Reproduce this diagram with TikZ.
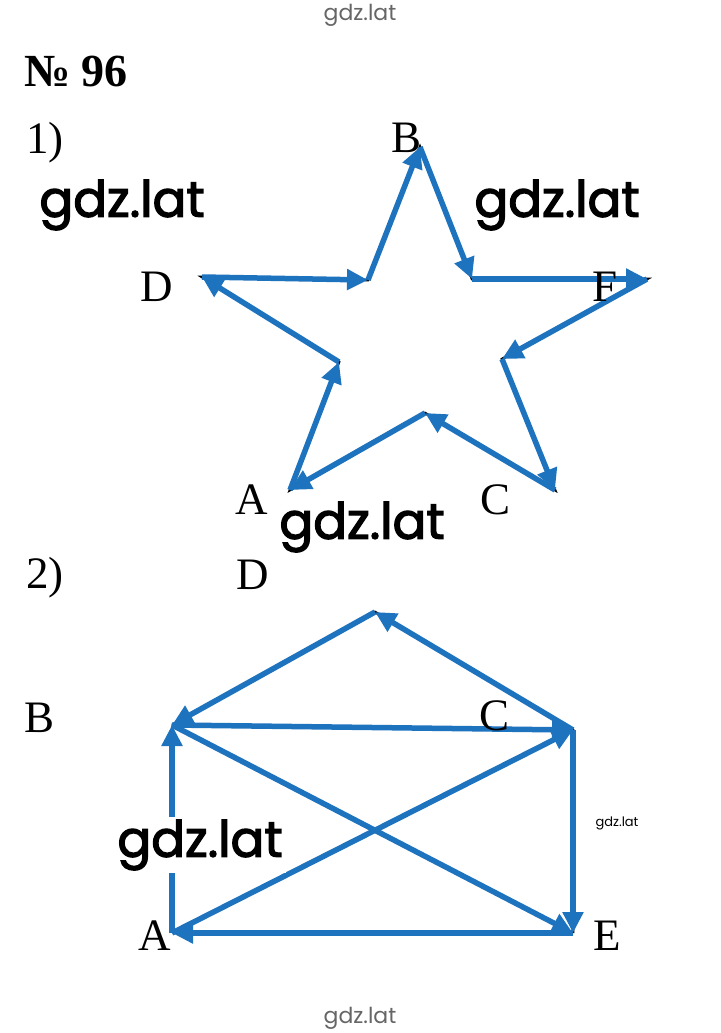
\documentclass[tikz,border=0pt]{standalone}
\usepackage{fontspec}
\setmainfont{Liberation Serif}
\newfontfamily\wmfont[FakeBold=2.5]{Poppins}
\newfontfamily\wmthin{Poppins}
\usetikzlibrary{arrows.meta}
\definecolor{vecblue}{RGB}{30,115,190}

\begin{document}
\begin{tikzpicture}[x=1pt,y=-1pt,
  every node/.style={
    inner sep=0pt, font=\fontsize{45}{45}\selectfont
  },
  vec/.style={
    draw=vecblue, line width=5.5pt,
    -{Triangle[length=21pt,width=20pt]}
  },
  side/.style={draw=black, line width=2.6pt},
  wmbig/.style={font=\wmfont\fontsize{50}{50}\selectfont},
  wmsmall/.style={font=\wmthin\fontsize{#1}{#1}\selectfont}
  ]
  \useasboundingbox[fill=white] (0,0) rectangle (720,1033);

  \node[wmsmall=22, text=black!60] (wmtop) at (360,15) {gdz.lat};
  \node[wmsmall=22, text=black!60] (wmbot) at (360,1018) {gdz.lat};
  \node[wmsmall=13] (wmright) at (617,823) {gdz.lat};
  \node[anchor=west, font=\bfseries\fontsize{46}{46}\selectfont] (title) at (24,71) {№ 96};

  % 1) star
  \node (one) at (45,143) {1)};
  \coordinate (A) at (290,490);
  \coordinate (p1) at (339,362);
  \coordinate (D) at (202,277);
  \coordinate (p2) at (368,280);
  \coordinate (B) at (420,147);
  \coordinate (p3) at (472,279);
  \coordinate (F) at (647,279);
  \coordinate (p4) at (502,359);
  \coordinate (C) at (555,490);
  \coordinate (p5) at (425,413);
  \draw[side, shift={(3,2.5)}] (A) -- (p1) -- (D) -- (p2) -- (B) -- (p3)
    -- (F) -- (p4) -- (C) -- (p5) -- cycle;
  \foreach \s/\t in {A/p1, p1/D, D/p2, p2/B, B/p3, p3/F, F/p4, p4/C, C/p5, p5/A}
    \draw[vec] (\s) -- (\t);
  \node (lB) at (407,138) {B};
  \node (lD) at (157,287) {D};
  \node (lF) at (605,287) {F};
  \node (lA) at (252,500) {A};
  \node (lC) at (496,500) {C};

  % 2) house
  \node (two) at (45,578) {2)};
  \coordinate (a) at (172,933);
  \coordinate (b) at (172,725);
  \coordinate (c) at (573,730);
  \coordinate (d) at (375,612);
  \coordinate (e) at (573,933);
  \draw[side, shift={(3,2.5)}] (b) -- (e) (b) -- (d) -- (c) -- (e);
  \foreach \s/\t in {a/b, b/c, c/d, d/b, b/e, e/a, a/c, c/e}
    \draw[vec] (\s) -- (\t);
  \node (la) at (155,936) {A};
  \node (lb) at (40,718) {B};
  \node (lc) at (495,716) {C};
  \node (ld) at (253,575) {D};
  \node (le) at (607,936) {E};

  \node[wmbig] (wm1) at (122,205) {gdz.lat};
  \node[wmbig] (wm2) at (557,205) {gdz.lat};
  \node[wmbig, fill=white, inner sep=3pt] (wm3) at (362,527) {gdz.lat};
  \node[wmbig, fill=white, inner sep=3pt] (wm4) at (200,845) {gdz.lat};
\end{tikzpicture}
\end{document}
